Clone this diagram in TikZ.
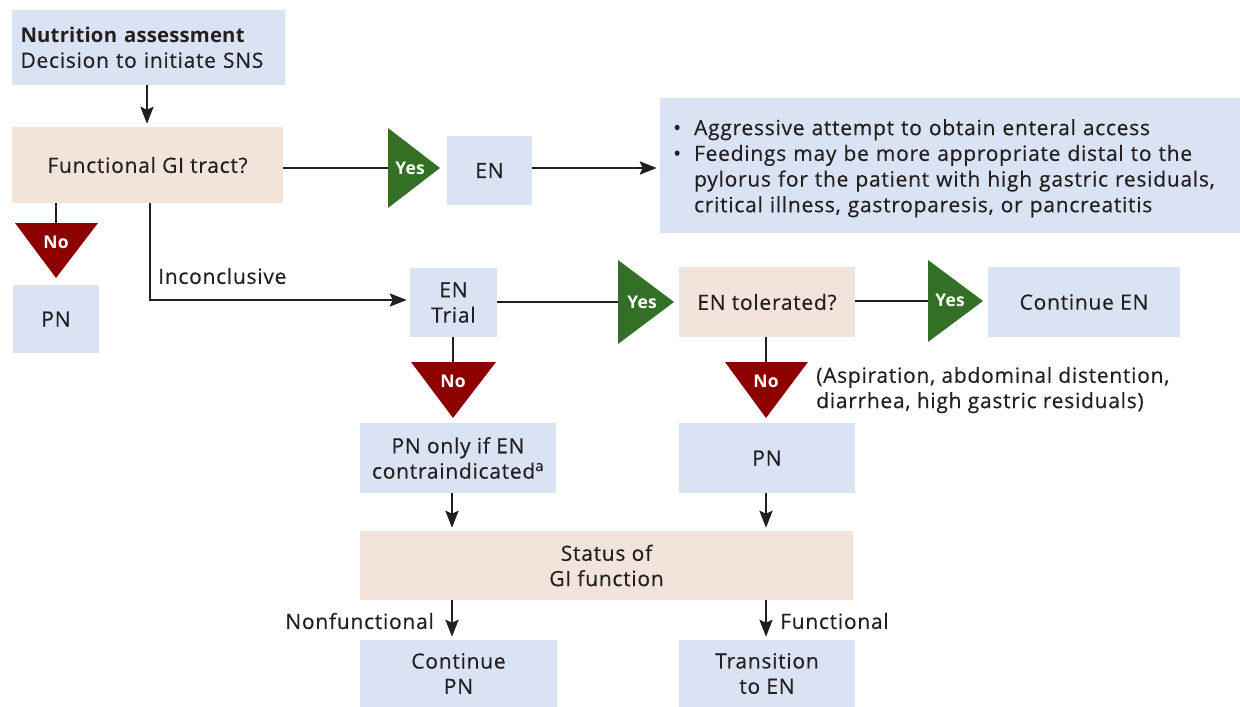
\documentclass[tikz,border=0pt]{standalone}
\usepackage{fontspec}
\setmainfont{Open Sans}[FakeBold=0.4, LetterSpace=3.5, BoldFeatures={FakeBold=0, LetterSpace=1}]
\usetikzlibrary{arrows.meta}
\definecolor{boxblue}{RGB}{218,227,243}
\definecolor{boxbeige}{RGB}{242,228,219}
\definecolor{yesgreen}{RGB}{51,112,38}
\definecolor{nored}{RGB}{140,0,0}
\definecolor{linec}{RGB}{35,31,32}
\tikzset{
  bluebox/.style={fill=boxblue, draw=none, inner sep=0pt, align=center, text=linec},
  beigebox/.style={fill=boxbeige, draw=none, inner sep=0pt, align=center, text=linec},
  conn/.style={draw=linec, line width=2.6pt},
  arr/.style={conn, -{Stealth[length=17pt,width=13pt,inset=3pt]}, shorten >=3pt},
  yesno/.style={text=white, font=\fontsize{17.5}{19}\selectfont\bfseries, inner sep=0pt},
  lbl/.style={text=linec, inner sep=0pt},
}
\begin{document}
\begin{tikzpicture}[x=1pt,y=-1pt, font=\fontsize{21}{25.3}\selectfont]
\useasboundingbox (0,0) rectangle (1240,707);
% boxes
\node[bluebox, minimum width=273pt, minimum height=75pt, text width=255pt, align=left] (b1) at (148,47.5)
  {\fontsize{21}{27}\selectfont{\fontsize{20.3}{27}\selectfont\bfseries Nutrition assessment}\\Decision to initiate SNS};
\node[beigebox, minimum width=271pt, minimum height=76pt] (func) at (147.5,165) {Functional GI tract?};
\node[bluebox, minimum width=85pt, minimum height=69pt] (en) at (489.5,170.5) {EN};
\node[bluebox, minimum width=580pt, minimum height=135pt] (bul) at (950,165.5) {};
\node[lbl, anchor=north west, text width=550pt, align=left] (bultext) at (673,117)
  {\renewcommand{\arraystretch}{1.015}%
  \begin{tabular}{@{}l@{\hspace{13pt}}l@{}}
  \textbullet & Aggressive attempt to obtain enteral access\\
  \textbullet & Feedings may be more appropriate distal to the\\
  & pylorus for the patient with high gastric residuals,\\
  & critical illness, gastroparesis, or pancreatitis
  \end{tabular}};
\node[bluebox, minimum width=86pt, minimum height=68pt] (pnL) at (56,319) {PN};
\node[bluebox, minimum width=87pt, minimum height=69pt] (trial) at (453.5,302.5) {EN\\Trial};
\node[beigebox, minimum width=176pt, minimum height=70pt] (tol) at (767,302) {EN tolerated?};
\node[bluebox, minimum width=192pt, minimum height=70pt] (cont) at (1084,302) {Continue EN};
\node[bluebox, minimum width=196pt, minimum height=70pt] (pnonly) at (458,458) {PN only if EN\\contraindicated\textsuperscript{a}};
\node[bluebox, minimum width=176pt, minimum height=70pt] (pnM) at (767,458) {PN};
\node[beigebox, minimum width=493pt, minimum height=69pt] (status) at (606.5,565.5) {Status of\\GI function};
\node[bluebox, minimum width=197pt, minimum height=67pt] (contPN) at (458.5,673.5) {Continue\\PN};
\node[bluebox, minimum width=176pt, minimum height=67pt] (trans) at (767,673.5) {Transition\\to EN};

% triangles
\coordinate (y1l) at (388,168);
\fill[yesgreen] (388,128) -- (440,168) -- (388,208) -- cycle;
\node[yesno] (y1) at (410,168) {Yes};
\coordinate (y2l) at (618,302);
\fill[yesgreen] (618,260) -- (674,302) -- (618,344) -- cycle;
\node[yesno] (y2) at (642,302) {Yes};
\coordinate (y3l) at (928,301);
\fill[yesgreen] (928,260) -- (983,301) -- (928,342) -- cycle;
\node[yesno] (y3) at (950,300) {Yes};
\coordinate (n1t) at (56,223);
\fill[nored] (15,223) -- (98,223) -- (56,278) -- cycle;
\node[yesno] (n1) at (56,242) {No};
\coordinate (n2t) at (453,362);
\fill[nored] (411,362) -- (496,362) -- (453,418) -- cycle;
\node[yesno] (n2) at (453,381) {No};
\coordinate (n3t) at (766,362);
\fill[nored] (725,362) -- (808,362) -- (766,418) -- cycle;
\node[yesno] (n3) at (766,381) {No};

% connectors
\draw[arr] (b1.south -| 147,0) -- (func.north -| 147,0);
\draw[conn] (func.east |- y1l) -- (y1l);
\draw[arr] (en.east |- 0,168) -- (bul.west |- 0,168);
\draw[conn] (func.south -| n1t) -- (n1t);
\draw[arr] (func.south -| 150,0) -- (150,300) -- (trial.west |- 0,300);
\node[lbl, anchor=west] (inc) at (158,276) {Inconclusive};
\draw[conn] (trial.east |- y2l) -- (y2l);
\draw[conn] (tol.east |- y3l) -- (y3l);
\draw[conn] (trial.south -| n2t) -- (n2t);
\draw[conn] (tol.south -| n3t) -- (n3t);
\node[lbl, anchor=west, align=left] (asp) at (816,390) {(Aspiration, abdominal distention,\\diarrhea, high gastric residuals)};
\draw[arr] (pnonly.south -| 452,0) -- (status.north -| 452,0);
\draw[arr] (pnM.south -| 766,0) -- (status.north -| 766,0);
\draw[arr] (status.south -| 452,0) -- (contPN.north -| 452,0);
\draw[arr] (status.south -| 766,0) -- (trans.north -| 766,0);
\node[lbl, anchor=east] (nonf) at (434,621) {Nonfunctional};
\node[lbl, anchor=west] (funl) at (780,621) {Functional};
\end{tikzpicture}
\end{document}
